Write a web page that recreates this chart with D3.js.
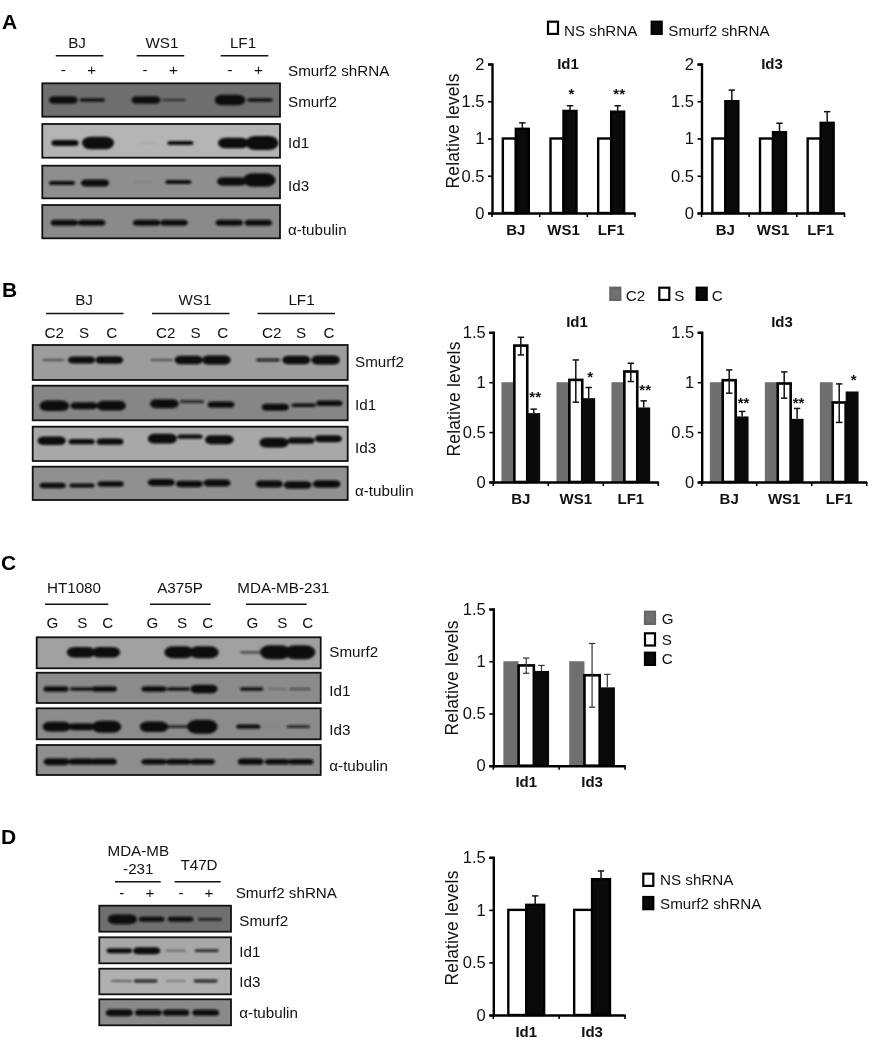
<!DOCTYPE html>
<html><head><meta charset="utf-8">
<script src="https://cdn.jsdelivr.net/npm/d3@7"></script>
<style>
html,body{margin:0;padding:0;background:#fff}
svg{filter:blur(0.35px)}
text{font-family:"Liberation Sans",Arial,sans-serif;fill:#111}
</style></head><body><div id="c"></div>
<script>
/* ---------- chart values ---------- */
const cellLines = ["BJ","WS1","LF1"];
const targets = ["Id1","Id3"];
const baseline = [1,1,1];
const baseline2 = [1,1];

const aId1Smurf = [1.13,1.37,1.36], aId1Hi = [1.21,1.44,1.44], aId1Stars = [null,"*","**"], aId1StarAt=[null,1.63,1.63];
const aId3Smurf = [1.50,1.085,1.21], aId3Hi = [1.65,1.205,1.36];

const bId1S = [1.367,1.023,1.107], bId1SHi=[1.45,1.223,1.19], bId1SLo=[1.273,0.80,1.007];
const bId1C = [0.69,0.84,0.747], bId1CHi=[0.73,0.947,0.813];
const bId1Stars=["**","*","**"], bId1StarAt=[0.88,1.083,0.947];
const bId3S = [1.02,0.987,0.797], bId3SHi=[1.123,1.103,0.983], bId3SLo=[0.89,0.84,0.597];
const bId3C = [0.657,0.633,0.907], bId3CHi=[0.707,0.737,null];
const bId3Stars=["**","**","*"], bId3StarAt=[0.817,0.823,1.05];

const cS=[0.96,0.866], cSHi=[1.03,1.17], cSLo=[0.885,0.56];
const cC=[0.907,0.75], cCHi=[0.96,0.875];

const dSmurf=[1.048,1.292], dHi=[1.133,1.37];

/* ---------- blot band densities (0 = none, 1 = saturated) ---------- */
const blotRowsNames = ["Smurf2","Id1","Id3","α-tubulin"];
const aSmurf2=[.55,.25,.55,.15,.75,.25], aId1=[.42,.9,.02,.3,.75,1], aId3=[.3,.5,.03,.3,.6,.95], aTub=[.42,.42,.42,.42,.42,.42];
const bSmurf2=[.12,.5,.55,.12,.6,.65,.2,.6,.65], bId1=[.75,.5,.7,.65,.2,.45,.5,.25,.4], bId3=[.6,.38,.45,.7,.3,.65,.7,.45,.5], bTub=[.4,.3,.4,.5,.45,.5,.5,.55,.55];
const cSmurf2=[0,.75,.75,0,.85,.85,.12,1,1], cId1=[.4,.25,.4,.4,.25,.6,.25,.06,.12], cId3=[.7,.5,.85,.75,.2,1,.3,.02,.2], cTub=[.5,.45,.45,.4,.4,.4,.45,.4,.4];
const dSmurf2=[.7,.35,.35,.2], dId1=[.35,.5,.08,.2], dId3=[.1,.2,.07,.2], dTub=[.5,.45,.45,.45];

/* ---------- text ---------- */
const laneSignsA=["-","+","-","+","-","+"], laneSignsD=["-","+","-","+"];
const laneB=["C2","S","C","C2","S","C","C2","S","C"], laneC=["G","S","C","G","S","C","G","S","C"];

/* ---------- styles ---------- */
const GRAY="#6f6f6f", BLACK="#0a0a0a", WHITE="#fff";
const svg=d3.select("#c").append("svg").attr("width",888).attr("height",1050).style("display","block");
const defs=svg.append("defs");
defs.append("filter").attr("id","blur").attr("x","-20%").attr("y","-60%").attr("width","140%").attr("height","220%")
  .append("feGaussianBlur").attr("stdDeviation",0.8);

/* panel letters */
[["A",2,29],["B",2,297],["C",1,570],["D",1,844]].forEach(([t,x,y])=>
  svg.append("text").attr("x",x).attr("y",y).attr("font-size",21).attr("font-weight","bold").style("fill","#000").text(t));

/* ---------- bar chart ---------- */
function barChart(o){
  const g=svg.append("g");
  const x0=d3.scaleBand().domain(o.cats).range(o.xr).paddingInner(o.pad).paddingOuter(o.pad/2);
  const x1=d3.scaleBand().domain(o.series.map(s=>s.name)).range([0,x0.bandwidth()]);
  const y=d3.scaleLinear().domain([0,o.ymax]).range(o.yr);

  const bars=g.append("g");
  o.series.forEach(s=>{
    bars.append("g").selectAll("rect").data(o.cats.map((c,i)=>({c,v:s.vals[i]}))).join("rect")
      .attr("x",d=>x0(d.c)+x1(s.name)).attr("width",x1.bandwidth())
      .attr("y",d=>y(d.v)).attr("height",d=>y(0)-y(d.v))
      .attr("fill",s.fill).attr("stroke",s.stroke||"none").attr("stroke-width",s.sw||0);
  });
  o.series.forEach(s=>{
    if(!s.hi) return;
    const e=g.append("g").attr("stroke",s.ec||"#111").attr("stroke-width",s.ew||1.5).attr("fill","none");
    o.cats.forEach((c,i)=>{
      if(s.hi[i]==null) return;
      const cx=x0(c)+x1(s.name)+x1.bandwidth()/2;
      const lo=s.lo?s.lo[i]:s.vals[i];
      e.append("line").attr("x1",cx).attr("x2",cx).attr("y1",y(s.hi[i])).attr("y2",y(lo));
      e.append("line").attr("x1",cx-3.2).attr("x2",cx+3.2).attr("y1",y(s.hi[i])).attr("y2",y(s.hi[i]));
      if(s.lo) e.append("line").attr("x1",cx-3.2).attr("x2",cx+3.2).attr("y1",y(lo)).attr("y2",y(lo));
    });
    if(s.stars) o.cats.forEach((c,i)=>{
      if(!s.stars[i]) return;
      g.append("text").attr("x",x0(c)+x1(s.name)+x1.bandwidth()/2+1.5).attr("y",y(s.starAt[i])).attr("dy","0.52em")
        .attr("text-anchor","middle").attr("font-size",15).attr("font-weight","bold").text(s.stars[i]);
    });
  });

  const yAxis=d3.axisLeft(y).tickValues(o.ticks).tickFormat(d=>String(d)).tickSize(4).tickPadding(3.5);
  const ya=g.append("g").attr("transform",`translate(${o.xr[0]},0)`).call(yAxis);
  ya.selectAll("path").attr("stroke","#000").attr("stroke-width",2.4);
  ya.selectAll("line").attr("stroke","#000").attr("stroke-width",1.6);
  ya.selectAll("text").attr("font-size",16.5);
  ya.attr("font-family",null);

  const xa=g.append("g").attr("transform",`translate(0,${y(0)})`).call(d3.axisBottom(x0).tickSize(0).tickPadding(11));
  xa.attr("font-family",null);
  xa.selectAll("path").attr("stroke","#000").attr("stroke-width",2.4);
  xa.selectAll("text").attr("font-size",15).attr("font-weight","bold");
  const edges=[o.xr[0]].concat(o.cats.map((c,i)=>o.xr[0]+(i+1)*x0.step()));
  xa.selectAll("line.edge").data(edges).join("line").attr("class","edge")
    .attr("x1",d=>d).attr("x2",d=>d).attr("y1",0).attr("y2",4).attr("stroke","#000").attr("stroke-width",1.6);

  if(o.title) g.append("text").attr("x",o.title[1]).attr("y",o.title[2]).attr("text-anchor","middle").attr("dominant-baseline","central")
    .attr("font-size",15).attr("font-weight","bold").text(o.title[0]);
  if(o.yl) g.append("text").attr("transform",`translate(${o.yl[0]},${o.yl[1]}) rotate(-90)`).attr("text-anchor","middle").attr("dominant-baseline","central")
    .attr("font-size",17.5).attr("letter-spacing",".15").text("Relative levels");
}
const nsS=(v)=>({name:"NS",vals:v,fill:WHITE,stroke:"#000",sw:2.4});
const blkS=(v,hi,extra)=>Object.assign({name:"K",vals:v,hi,fill:BLACK,stroke:"#000",sw:2.4},extra||{});
const ctrlS=v=>({name:"G",vals:v,fill:GRAY});
const sS=(v,hi,lo,ew,ec)=>({name:"S",vals:v,hi,lo,fill:WHITE,stroke:"#000",sw:2.6,ew:ew||1.5,ec});
const cSer=(v,hi,stars,starAt,ew,ec)=>({name:"C",vals:v,hi,stars,starAt,fill:BLACK,ew:ew||1.5,ec});

barChart({cats:cellLines,xr:[492,635],yr:[213,64],ymax:2,ticks:[0,.5,1,1.5,2],pad:.455,title:["Id1",568,63],yl:[453,131],
  series:[nsS(baseline),blkS(aId1Smurf,aId1Hi,{stars:aId1Stars,starAt:aId1StarAt})]});
barChart({cats:cellLines,xr:[701.5,844.5],yr:[213,64],ymax:2,ticks:[0,.5,1,1.5,2],pad:.455,title:["Id3",772,63],
  series:[nsS(baseline),blkS(aId3Smurf,aId3Hi)]});
barChart({cats:cellLines,xr:[493.3,658.3],yr:[482,332.3],ymax:1.5,ticks:[0,.5,1,1.5],pad:.296,title:["Id1",577,321.7],yl:[454,399],
  series:[ctrlS(baseline),sS(bId1S,bId1SHi,bId1SLo),cSer(bId1C,bId1CHi,bId1Stars,bId1StarAt)]});
barChart({cats:cellLines,xr:[701.7,866.7],yr:[482,332.3],ymax:1.5,ticks:[0,.5,1,1.5],pad:.296,title:["Id3",782,321.7],
  series:[ctrlS(baseline),sS(bId3S,bId3SHi,bId3SLo),cSer(bId3C,bId3CHi,bId3Stars,bId3StarAt)]});
barChart({cats:targets,xr:[493.3,625],yr:[765.7,609],ymax:1.5,ticks:[0,.5,1,1.5],pad:.306,yl:[452,678],
  series:[ctrlS(baseline2),sS(cS,cSHi,cSLo,1.2,"#333"),cSer(cC,cCHi,null,null,1.2,"#333")]});
barChart({cats:targets,xr:[493.3,625],yr:[1015,857.3],ymax:1.5,ticks:[0,.5,1,1.5],pad:.456,yl:[452,928],
  series:[nsS(baseline2),blkS(dSmurf,dHi)]});

/* ---------- legends ---------- */
function legend(items){
  items.forEach(([label,fill,bx,by,tx,ty,stroke])=>{
    svg.append("rect").attr("x",bx+1).attr("y",by+1).attr("width",10).attr("height",12.2)
      .attr("fill",fill).attr("stroke",stroke).attr("stroke-width",2.2);
    svg.append("text").attr("x",tx).attr("y",ty).attr("dominant-baseline","central").attr("font-size",15.2).text(label);
  });
}
legend([["NS shRNA",WHITE,547,20.7,564,30,"#000"],["Smurf2 shRNA",BLACK,650.7,20.7,668.3,30,"#000"]]);
legend([["C2",GRAY,609.3,286.7,625.7,295,"#666"],["S",WHITE,658.3,286.7,674.3,295,"#000"],["C",BLACK,695.7,286.7,711.7,295,"#000"]]);
legend([["G",GRAY,644,610.7,661.7,618,"#666"],["S",WHITE,644,632.3,661.7,639.7,"#000"],["C",BLACK,644,651.7,661.7,658,"#000"]]);
legend([["NS shRNA",WHITE,642.3,872.7,660,879.7,"#000"],["Smurf2 shRNA",BLACK,642.3,896,660,903.3,"#000"]]);

/* ---------- western blots ---------- */
const thick=d3.scaleLinear().domain([0,1]).range([0,14]);
const dark=d3.scaleLinear().domain([0,.04,.14,.25]).range([0,.12,.7,1]).clamp(true);
const wide=d3.scaleLinear().domain([0,.15,.5,1]).range([.65,.9,1.05,1.22]);

function blot(o){
  const g=svg.append("g");
  o.rows.forEach((r,i)=>{
    const lane=d3.scaleOrdinal().domain(d3.range(r.signal.length)).range(r.centers);
    const h=d=>Math.max(thick(d),2.2);
    g.append("rect").attr("x",o.x[0]).attr("y",r.y[0]).attr("width",o.x[1]-o.x[0]).attr("height",r.y[1]-r.y[0])
      .attr("fill",r.bg).attr("stroke","#111").attr("stroke-width",1.8);
    g.append("g").attr("filter","url(#blur)").selectAll("rect").data(r.signal).join("rect")
      .attr("x",(d,j)=>lane(j)-o.bandW*wide(d)/2).attr("width",d=>o.bandW*wide(d))
      .attr("y",(d,j)=>r.band+(r.shift?r.shift[j]:0)-h(d)/2).attr("height",h)
      .attr("rx",d=>h(d)*0.7).attr("ry",d=>h(d)/2)
      .attr("fill","#0c0c0c").attr("opacity",d=>dark(d));
    g.append("text").attr("x",o.labelX).attr("y",r.labelY).attr("dominant-baseline","central").attr("font-size",15.2).text(blotRowsNames[i]);
  });
  o.headers.forEach(h=>{
    h.text.forEach((t,k)=>g.append("text").attr("x",h.cx).attr("y",h.y+k*18.3).attr("text-anchor","middle").attr("dominant-baseline","central").attr("font-size",15.2).text(t));
    g.append("line").attr("x1",h.line[0]).attr("x2",h.line[1]).attr("y1",o.lineY).attr("y2",o.lineY).attr("stroke","#111").attr("stroke-width",1.5);
  });
  o.laneLabels.forEach((t,i)=>g.append("text").attr("x",o.laneX[i]).attr("y",o.laneY).attr("text-anchor","middle").attr("dominant-baseline","central").attr("font-size",15.2).text(t));
  if(o.side) g.append("text").attr("x",o.side[0]).attr("y",o.side[1]).attr("dominant-baseline","central").attr("font-size",15.2).text("Smurf2 shRNA");
}
const px=(a)=>a.map(v=>v/3);

blot({x:[42.3,280],labelX:288,lineY:55.7,laneY:69,laneLabels:laneSignsA,laneX:px([190,275,435,520,690,775]),side:[288,70],bandW:27,
  headers:[{text:["BJ"],cx:77,y:42,line:[55.7,103.3]},{text:["WS1"],cx:162,y:42,line:[136.7,184.3]},{text:["LF1"],cx:243,y:42,line:[220.7,268.3]}],
  rows:[
   {signal:aSmurf2,centers:px([190,277,438,521,690,780]),y:[83.3,116.7],band:100,labelY:101,bg:"#6f6f6f"},
   {signal:aId1,centers:px([195,294,445,541,700,786]),y:[124,157.7],band:143,labelY:142,bg:"#b4b4b4"},
   {signal:aId3,centers:px([186,285,430,535,695,778]),y:[165.7,198.3],band:182,shift:[1,1,0,0,-.5,-2],labelY:185,bg:"#8e8e8e"},
   {signal:aTub,centers:px([193,275,440,522,688,775]),y:[205,238.3],band:222.7,labelY:229,bg:"#8a8a8a"}]});

blot({x:[32.7,347.7],labelX:355,lineY:313.5,laneY:332,laneLabels:laneB,laneX:px([163,252,335,497,587,668,815,903,987]),bandW:26,
  headers:[{text:["BJ"],cx:84,y:299,line:[46,123.5]},{text:["WS1"],cx:195,y:299,line:[152,229.5]},{text:["LF1"],cx:301.5,y:299,line:[257.5,335]}],
  rows:[
   {signal:bSmurf2,centers:px([160,245,328,485,566,649,804,889,977]),y:[345,380],band:360,labelY:361.5,bg:"#9c9c9c"},
   {signal:bId1,centers:px([163,252,334,493,576,663,826,911,988]),y:[385.7,420.3],band:405.7,shift:[0,0,0,-2,-4,-1,1.5,-.5,-2.5],labelY:404.5,bg:"#868686"},
   {signal:bId3,centers:px([155,245,330,487,570,658,822,903,985]),y:[426.7,461],band:440.7,shift:[0,1,1,-2,-4,-1,2,0,-2],labelY:447,bg:"#a8a8a8"},
   {signal:bTub,centers:px([158,246,332,484,568,651,808,893,980]),y:[466.7,500],band:484,shift:[1.5,1.5,0,-1.5,0,-1,0,1,0],labelY:490,bg:"#909090"}]});

blot({x:[36.7,320.7],labelX:329.3,lineY:604.3,laneY:622.3,laneLabels:laneC,laneX:px([157,247,323,457,546,623,757,847,923]),bandW:25,
  headers:[{text:["HT1080"],cx:74,y:587.7,line:[45,108.3]},{text:["A375P"],cx:180,y:587.7,line:[150,210.7]},{text:["MDA-MB-231"],cx:283.3,y:587.7,line:[246,306.7]}],
  rows:[
   {signal:cSmurf2,centers:px([170,243,318,460,537,612,752,826,900]),y:[637.3,668.3],band:652.3,labelY:651,bg:"#a0a0a0"},
   {signal:cId1,centers:px([168,245,313,462,535,612,755,832,900]),y:[672.7,703],band:689,labelY:690,bg:"#8b8b8b"},
   {signal:cId3,centers:px([170,245,320,462,532,607,745,815,895]),y:[708.3,739.3],band:726.7,labelY:729,bg:"#8b8b8b"},
   {signal:cTub,centers:px([170,245,312,462,535,607,752,832,903]),y:[745,775],band:761.7,labelY:765,bg:"#8e8e8e"}]});

blot({x:[99.3,231],labelX:239.3,lineY:881.7,laneY:892.7,laneLabels:laneSignsD,laneX:px([365,450,543,627]),side:[235.7,892.7],bandW:26,
  headers:[{text:["MDA-MB","-231"],cx:138.3,y:850,line:[115,160.7]},{text:["T47D"],cx:199,y:864,line:[174.7,220.7]}],
  rows:[
   {signal:dSmurf2,centers:px([367,455,542,630]),y:[905.7,931.7],band:919.3,labelY:920.7,bg:"#6f6f6f"},
   {signal:dId1,centers:px([358,440,527,620]),y:[937.3,963.3],band:950.7,labelY:951,bg:"#a8a8a8"},
   {signal:dId3,centers:px([365,437,528,617]),y:[968.7,994.3],band:981,labelY:981.7,bg:"#b0b0b0"},
   {signal:dTub,centers:px([358,445,528,617]),y:[999.3,1025.3],band:1012.7,labelY:1012.7,bg:"#8a8a8a"}]});
</script></body></html>
